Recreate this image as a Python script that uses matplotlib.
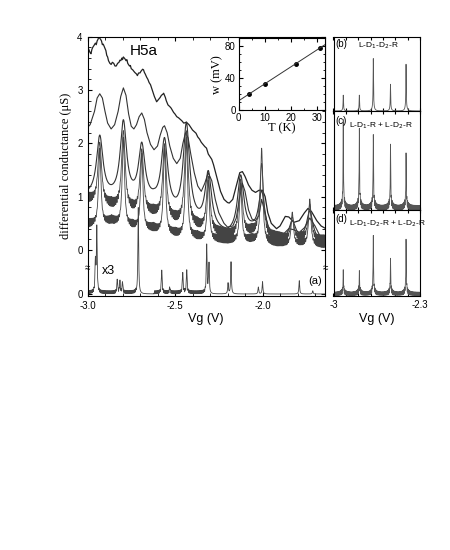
import numpy as np
import matplotlib.pyplot as plt
from matplotlib.ticker import MultipleLocator

plt.rcParams['font.family'] = ['Liberation Sans', 'DejaVu Sans']
plt.rcParams['xtick.direction'] = 'in'
plt.rcParams['ytick.direction'] = 'in'
plt.rcParams['xtick.top'] = True
plt.rcParams['ytick.right'] = True
plt.rcParams['axes.linewidth'] = 0.8
SERIF = ['Liberation Serif', 'DejaVu Serif']

# ---- panel (a): highest temperature trace, read point by point
v1 = [-3.0, -2.995, -2.99, -2.985, -2.98, -2.975, -2.97, -2.962, -2.955, -2.95, -2.945,
      -2.94, -2.935, -2.93, -2.925, -2.92, -2.915, -2.91, -2.9, -2.895, -2.89, -2.885,
      -2.88, -2.872, -2.865, -2.858, -2.85, -2.843, -2.836, -2.828, -2.82, -2.815, -2.81,
      -2.803, -2.8, -2.795, -2.79, -2.785, -2.78, -2.775, -2.77, -2.76, -2.755, -2.75,
      -2.742, -2.735, -2.73, -2.72, -2.715, -2.708, -2.7, -2.695, -2.69, -2.685, -2.68,
      -2.675, -2.67, -2.662, -2.655, -2.648, -2.64, -2.632, -2.625, -2.618, -2.61, -2.605,
      -2.6, -2.592, -2.585, -2.578, -2.57, -2.565, -2.56, -2.555, -2.55, -2.545, -2.54,
      -2.53, -2.522, -2.515, -2.508, -2.5, -2.49, -2.48, -2.47, -2.46, -2.45, -2.44,
      -2.435, -2.43, -2.42, -2.41, -2.4, -2.39, -2.38, -2.37, -2.36, -2.35, -2.34,
      -2.33, -2.32, -2.31, -2.30, -2.29, -2.28, -2.26, -2.24, -2.22, -2.2, -2.19,
      -2.17, -2.15, -2.13, -2.115, -2.10, -2.08, -2.06, -2.04, -2.02, -2.0, -1.985,
      -1.97, -1.95, -1.92, -1.90, -1.87, -1.85, -1.82, -1.79, -1.76, -1.74, -1.72,
      -1.69, -1.665, -1.643]
g1 = [3.72, 3.78, 3.74, 3.70, 3.68, 3.76, 3.80, 3.84, 3.88, 3.85, 3.92,
      3.95, 4.0, 3.97, 3.95, 3.92, 3.85, 3.86, 3.78, 3.74, 3.65, 3.62,
      3.55, 3.50, 3.48, 3.52, 3.50, 3.45, 3.45, 3.50, 3.52, 3.56, 3.55,
      3.60, 3.57, 3.62, 3.60, 3.58, 3.55, 3.57, 3.50, 3.45, 3.46, 3.40,
      3.38, 3.35, 3.33, 3.30, 3.27, 3.32, 3.32, 3.35, 3.37, 3.39, 3.38,
      3.33, 3.30, 3.24, 3.20, 3.14, 3.10, 3.02, 2.95, 2.88, 2.82, 2.78,
      2.80, 2.83, 2.86, 2.90, 2.92, 2.94, 2.90, 2.86, 2.80, 2.76, 2.72,
      2.69, 2.66, 2.62, 2.58, 2.55, 2.50, 2.48, 2.45, 2.42, 2.38, 2.39,
      2.40, 2.38, 2.35, 2.30, 2.25, 2.22, 2.19, 2.12, 2.08, 2.02, 1.98,
      1.94, 1.91, 1.80, 1.75, 1.70, 1.6, 1.35, 1.1, 0.95, 0.89, 0.88,
      0.95, 1.2, 1.45, 1.47, 1.38, 1.22, 1.12, 1.08, 1.12, 1.12, 1.0,
      0.7, 0.5, 0.4, 0.45, 0.63, 0.62, 0.52, 0.55, 0.7, 0.78, 0.72,
      0.55, 0.45, 0.41]

# second trace, read point by point
v2 = [-3.0, -2.985, -2.96, -2.945, -2.93, -2.915, -2.9, -2.885, -2.865, -2.845, -2.825,
      -2.81, -2.795, -2.78, -2.765, -2.75, -2.735, -2.72, -2.705, -2.69, -2.675, -2.66,
      -2.64, -2.62, -2.60, -2.585, -2.57, -2.56, -2.545, -2.53, -2.51, -2.49, -2.47,
      -2.455, -2.44, -2.425, -2.41, -2.39, -2.37, -2.35, -2.33, -2.31, -2.29, -2.27,
      -2.25, -2.22, -2.2, -2.17, -2.15, -2.13, -2.115, -2.10, -2.08, -2.06, -2.04,
      -2.02, -2.005, -1.99, -1.97, -1.94, -1.91, -1.88, -1.85, -1.82, -1.79, -1.76,
      -1.73, -1.70, -1.67, -1.643]
g2 = [2.30, 2.35, 2.6, 2.85, 2.93, 2.85, 2.6, 2.38, 2.27, 2.35, 2.6,
      2.88, 3.04, 2.9, 2.55, 2.32, 2.27, 2.35, 2.5, 2.57, 2.45, 2.2,
      1.98, 1.88, 1.95, 2.15, 2.3, 2.33, 2.2, 1.95, 1.72, 1.62, 1.72,
      2.0, 2.2, 2.1, 1.8, 1.45, 1.2, 1.1, 1.25, 1.45, 1.3, 0.95,
      0.7, 0.5, 0.43, 0.45, 0.6, 1.0, 1.25, 1.1, 0.75, 0.58, 0.55,
      0.65, 0.95, 0.75, 0.45, 0.3, 0.25, 0.3, 0.4, 0.38, 0.33, 0.42,
      0.6, 0.45, 0.25, 0.2]

# lower three traces: Coulomb peak positions, peak and valley values
peak_v = [-2.93, -2.795, -2.69, -2.56, -2.435, -2.31, -2.125, -2.005, -1.83, -1.73]
valley_v = [-3.0, -2.86, -2.74, -2.62, -2.49, -2.37, -2.2, -2.06, -1.92, -1.78, -1.643]
g3_peak = [2.1, 2.35, 1.9, 2.0, 2.3, 1.4, 1.35, 1.05, 0.5, 0.7]
g3_valley = [1.0, 0.95, 0.9, 0.85, 0.6, 0.45, 0.25, 0.3, 0.15, 0.15, 0.12]
g4_peak = [2.0, 2.2, 1.85, 1.95, 2.2, 1.35, 1.3, 1.6, 0.6, 0.85]
g4_valley = [0.85, 0.7, 0.6, 0.55, 0.4, 0.3, 0.15, 0.2, 0.1, 0.1, 0.06]
g5_peak = [1.9, 2.1, 1.8, 1.9, 2.1, 1.3, 1.25, 1.9, 0.7, 0.95]
g5_valley = [0.4, 0.45, 0.35, 0.3, 0.2, 0.15, 0.1, 0.1, 0.05, 0.05, 0.03]

# x3 trace (offset baseline)
x3_v = [-2.955, -2.947, -2.83, -2.815, -2.80, -2.71, -2.576, -2.53, -2.456, -2.433,
        -2.319, -2.306, -2.197, -2.18, -2.024, -2.0, -1.79, -1.713]
x3_h = [0.6, 1.2, 0.25, 0.2, 0.2, 1.62, 0.43, 0.1, 0.38, 0.45,
        0.92, 0.55, 0.2, 0.6, 0.13, 0.23, 0.25, 0.06]
x3_zero = -0.825

# inset
T = [4, 10, 22, 31]
w = [20, 33, 58, 78]

# panels (b)-(d)
sim_v = [-2.921, -2.791, -2.678, -2.539, -2.413]
b_h = [0.19, 0.19, 0.63, 0.32, 0.56]
c_h = [0.76, 0.68, 0.66, 0.54, 0.46]
d_h = [0.22, 0.21, 0.61, 0.34, 0.54]


def lor(v, c, g):
    return g ** 2 / ((v - c) ** 2 + g ** 2)


def trace(v, pk, vals, gam, fr_amp=0.0, fr_per=0.007):
    base = np.interp(v, valley_v, vals)
    shape = np.zeros_like(v)
    out = base.copy()
    for c, h in zip(peak_v, pk):
        out += (h - np.interp(c, valley_v, vals)) * lor(v, c, gam)
        shape = np.maximum(shape, lor(v, c, 0.03))
    fringe = 0.5 + 0.5 * np.cos(2 * np.pi * v / fr_per)
    return out + fr_amp * fringe * (1 - shape) * 0.9


fig = plt.figure(figsize=(4.5, 5.5), dpi=100)
ax = fig.add_axes([87.5 / 450, 1 - 295.7 / 550, 237.5 / 450, 259 / 550])
vg = np.linspace(-3.0, -1.643, 6000)

ax.plot(v1, g1, color='#222222', lw=0.9)
ax.plot(v2, g2, color='#333333', lw=0.8)
ax.plot(vg, trace(vg, g3_peak, g3_valley, 0.022), color='#333333', lw=0.8)
ax.plot(vg, trace(vg, g4_peak, g4_valley, 0.013, 0.25), color='#444444', lw=0.6)
ax.plot(vg, trace(vg, g5_peak, g5_valley, 0.008, 0.22), color='#444444', lw=0.6)

g_x3 = np.full_like(vg, x3_zero)
for c, h in zip(x3_v, x3_h):
    g_x3 += h * lor(vg, c, 0.0025)
fr = 0.5 + 0.5 * np.cos(2 * np.pi * vg / 0.006)
g_x3 += 0.06 * fr * ((vg < -2.72) | ((vg > -2.62) & (vg < -2.3)))
ax.plot(vg, g_x3, color='#444444', lw=0.6)

ax.set_xlim(-3.0, -1.643)
ax.set_ylim(-0.857, 4.0)
ax.set_xticks([-3.0, -2.5, -2.0])
ax.set_xticklabels(['-3.0', '-2.5', '-2.0'])
ax.xaxis.set_minor_locator(MultipleLocator(0.1))
ax.set_yticks([x3_zero, 0, 1, 2, 3, 4])
ax.set_yticklabels(['0', '0', '1', '2', '3', '4'])
ax.set_yticks(np.arange(0.2, 4.0, 0.2), minor=True)
ax.tick_params(labelsize=7, length=3)
ax.tick_params(which='minor', length=2)
ax.set_xlabel('Vg (V)', fontsize=9, labelpad=2)
ax.set_ylabel('differential conductance (μS)', fontsize=9, family=SERIF, labelpad=4)
ax.text(-2.76, 3.65, 'H5a', fontsize=11)
ax.text(-2.92, -0.45, 'x3', fontsize=9)
ax.text(-1.74, -0.64, '(a)', fontsize=8)
for xb in (0, 1):
    ax.text(xb, -0.343, '≈', transform=ax.get_yaxis_transform(), fontsize=7,
            ha='center', va='center')

# inset
ins = fig.add_axes([238.5 / 450, 1 - 110 / 550, 86.5 / 450, 71.7 / 550])
ins.plot(T, w, 'o', color='black', ms=2.5)
k, b0 = np.polyfit(T, w, 1)
tl = np.array([0, 34])
ins.plot(tl, k * tl + b0, color='#333333', lw=0.7)
ins.set_xlim(0, 33)
ins.set_ylim(0, 90)
ins.set_xticks([0, 10, 20, 30])
ins.set_yticks([0, 40, 80])
ins.xaxis.set_minor_locator(MultipleLocator(5))
ins.yaxis.set_minor_locator(MultipleLocator(10))
ins.tick_params(labelsize=7, length=3, pad=2)
ins.tick_params(which='minor', length=1.5)
ins.set_xlabel('T (K)', fontsize=9, family=SERIF, labelpad=0)
ins.set_ylabel('w (mV)', fontsize=9, family=SERIF, labelpad=1)

# panels (b), (c), (d)
sv = np.linspace(-3.0, -2.3, 3000)
tops = [36.5, 111, 210, 295.5]
names = ['(b)', '(c)', '(d)']
labels = [r'L-D$_1$-D$_2$-R', r'L-D$_1$-R + L-D$_2$-R', r'L-D$_1$-D$_2$-R + L-D$_2$-R']
heights = [b_h, c_h, d_h]
fr_amp = [0.0, 0.08, 0.07]
for i in range(3):
    a = fig.add_axes([333.5 / 450, 1 - tops[i + 1] / 550, 86.5 / 450, (tops[i + 1] - tops[i]) / 550])
    y = np.zeros_like(sv)
    env = np.zeros_like(sv)
    for c, h in zip(sim_v, heights[i]):
        y += h * lor(sv, c, 0.0018) + 0.12 * h * lor(sv, c, 0.008)
        env = np.maximum(env, lor(sv, c, 0.02))
    ff = 0.5 + 0.5 * np.cos(2 * np.pi * sv / 0.006)
    y += fr_amp[i] * ff * (0.55 + 0.45 * env)
    a.plot(sv, y, color='#555555', lw=0.6)
    a.set_xlim(-3.0, -2.3)
    a.set_ylim(0, 1)
    a.set_yticks([])
    a.xaxis.set_major_locator(MultipleLocator(0.1))
    a.tick_params(length=2.5, labelbottom=(i == 2), labelsize=7)
    a.text(0.02, 0.97 if i == 0 else 0.95, names[i], transform=a.transAxes, fontsize=7, va='top')
    a.text(0.28 if i == 0 else 0.18, 0.95 if i == 0 else 0.9, labels[i], transform=a.transAxes,
           fontsize=6, va='top')
    if i == 2:
        a.set_xticks([-3.0, -2.9, -2.8, -2.7, -2.6, -2.5, -2.4, -2.3])
        a.set_xticklabels(['-3', '', '', '', '', '', '', '-2.3'])
        a.set_xlabel('Vg (V)', fontsize=9, labelpad=2)

fig.savefig('out.png', dpi=100)
